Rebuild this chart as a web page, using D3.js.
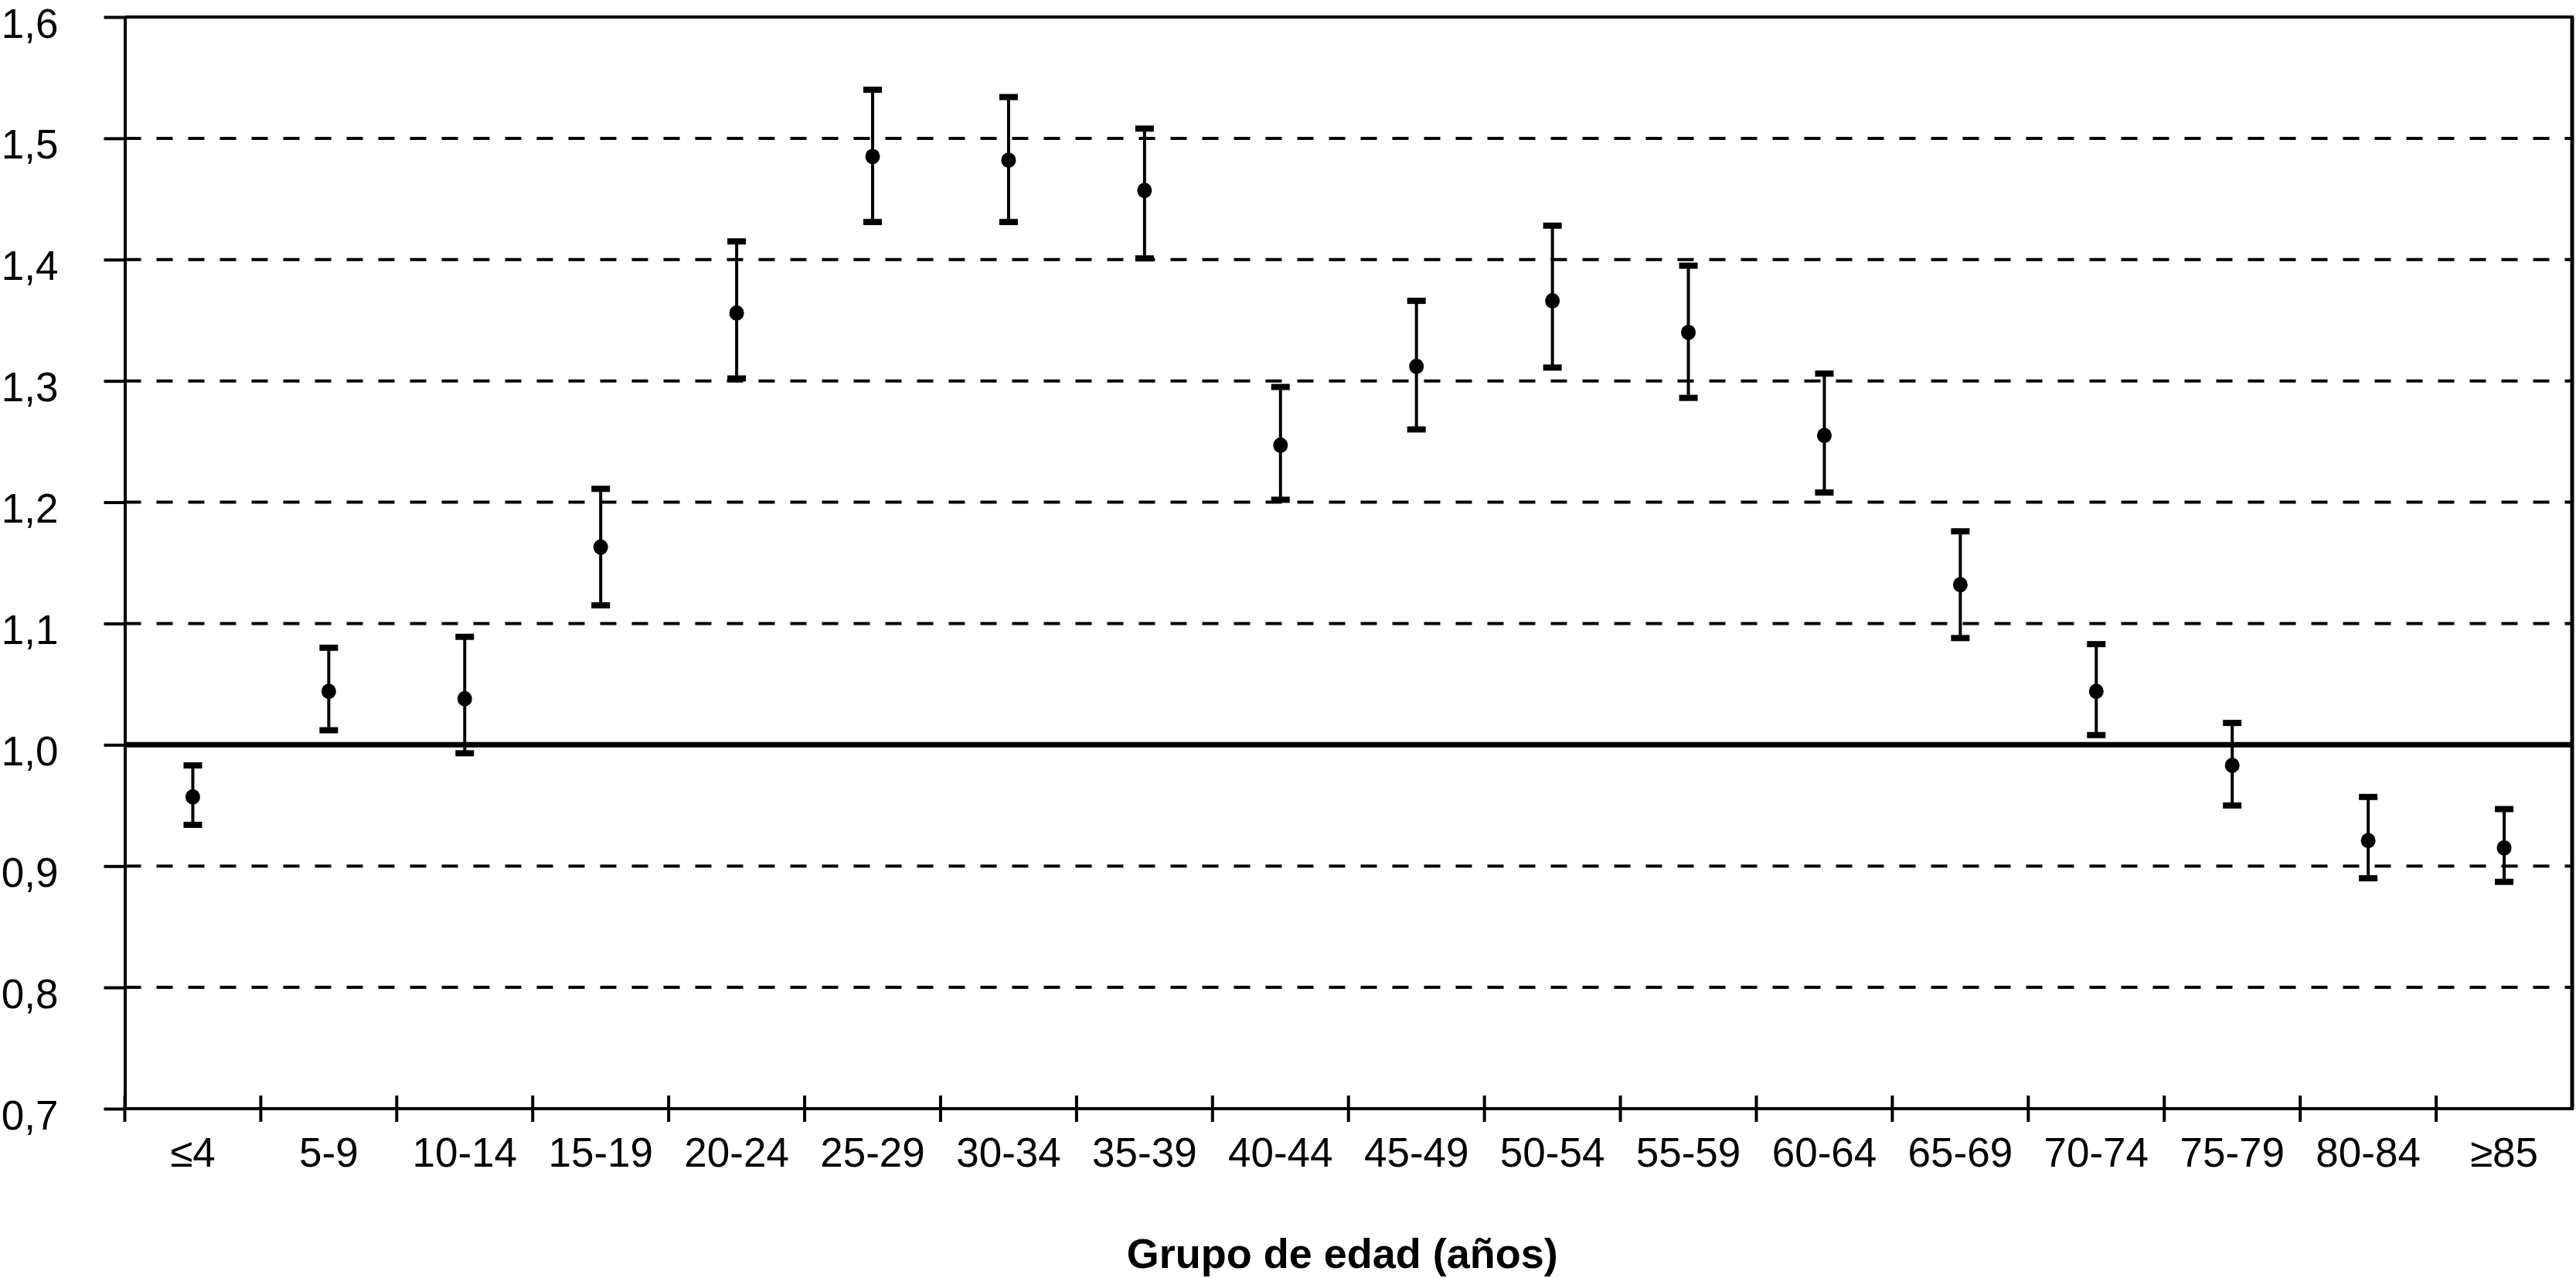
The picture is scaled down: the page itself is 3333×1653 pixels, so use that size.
<!DOCTYPE html>
<html>
<head>
<meta charset="utf-8">
<script src="https://cdn.jsdelivr.net/npm/d3@7"></script>
<style>
  body { margin: 0; background: #fff; }
  text { font-family: "Liberation Sans", Arial, Helvetica, sans-serif; fill: #000; }
</style>
</head>
<body>
<script>
// age groups and the ratio with its confidence interval
var groups = ['≤4', '5-9', '10-14', '15-19', '20-24', '25-29', '30-34', '35-39', '40-44',
  '45-49', '50-54', '55-59', '60-64', '65-69', '70-74', '75-79', '80-84', '≥85'];
var ratio = [0.957, 1.044, 1.038, 1.163, 1.356, 1.485, 1.482, 1.457, 1.247,
  1.312, 1.366, 1.340, 1.255, 1.132, 1.044, 0.983, 0.921, 0.915];
var upper = [0.983, 1.080, 1.089, 1.211, 1.415, 1.540, 1.534, 1.508, 1.295,
  1.366, 1.428, 1.395, 1.306, 1.176, 1.083, 1.018, 0.957, 0.947];
var lower = [0.934, 1.012, 0.993, 1.115, 1.302, 1.431, 1.431, 1.401, 1.202,
  1.260, 1.311, 1.286, 1.208, 1.088, 1.008, 0.950, 0.890, 0.887];
var yTicks = [0.7, 0.8, 0.9, 1.0, 1.1, 1.2, 1.3, 1.4, 1.5, 1.6];
var xTitle = 'Grupo de edad (años)';

var W = 3333, H = 1653;
var plotL = 161.5, plotR = 3328, plotT = 22, plotB = 1434;

var es = d3.formatLocale({decimal: ',', thousands: '.', grouping: [3], currency: ['', '€']});
var fmt = es.format('.1f');

var data = groups.map(function(g, i) {
  return {group: g, value: ratio[i], hi: upper[i], lo: lower[i]};
});

var x = d3.scaleBand().domain(groups).range([plotL, plotR]).padding(0);
var y = d3.scaleLinear().domain([0.7, 1.6]).range([plotB, plotT]);

var svg = d3.select('body')
  .append('svg')
  .attr('width', W)
  .attr('height', H);

// dashed grid
svg.append('g')
  .selectAll('line')
  .data(yTicks.filter(function(t) { return t > 0.75 && t < 1.55 && Math.abs(t - 1) > 0.01; }))
  .enter()
  .append('line')
  .attr('x1', plotL)
  .attr('x2', plotR)
  .attr('y1', function(d) { return y(d); })
  .attr('y2', function(d) { return y(d); })
  .attr('stroke', '#000')
  .attr('stroke-width', 4)
  .attr('stroke-dasharray', '21,20');

// reference line at 1
svg.append('line')
  .attr('x1', plotL)
  .attr('x2', plotR)
  .attr('y1', y(1))
  .attr('y2', y(1))
  .attr('stroke', '#000')
  .attr('stroke-width', 7);

// top and right border
svg.append('line')
  .attr('x1', plotL).attr('x2', plotR + 2)
  .attr('y1', y(1.6)).attr('y2', y(1.6))
  .attr('stroke', '#000').attr('stroke-width', 4);
svg.append('line')
  .attr('x1', plotR).attr('x2', plotR)
  .attr('y1', y(1.6)).attr('y2', y(0.7))
  .attr('stroke', '#000').attr('stroke-width', 5);

// y axis
var yAxis = svg.append('g')
  .attr('transform', 'translate(' + plotL + ',0)')
  .call(d3.axisLeft(y).tickValues(yTicks).tickFormat(fmt).tickSize(27).tickSizeOuter(0).tickPadding(59));
yAxis.select('.domain').attr('stroke', '#000').attr('stroke-width', 4);
yAxis.selectAll('.tick line').attr('stroke', '#000').attr('stroke-width', 4);
yAxis.selectAll('.tick text')
  .attr('font-size', 53)
  .attr('font-family', '"Liberation Sans", Arial, sans-serif')
  .attr('dy', 26)
  .attr('fill', '#000');

// x axis: labels centred in bands, ticks on band edges
var xAxis = svg.append('g')
  .attr('transform', 'translate(0,' + plotB + ')')
  .call(d3.axisBottom(x).tickSize(0).tickPadding(75));
xAxis.select('.domain').remove();
xAxis.selectAll('.tick text')
  .attr('font-size', 53)
  .attr('font-family', '"Liberation Sans", Arial, sans-serif')
  .attr('dy', 0)
  .attr('fill', '#000');

svg.append('line')
  .attr('x1', plotL - 2).attr('x2', plotR + 2)
  .attr('y1', plotB).attr('y2', plotB)
  .attr('stroke', '#000').attr('stroke-width', 4);

var edges = groups.map(function(g) { return x(g); });
svg.append('g')
  .selectAll('line')
  .data(edges)
  .enter()
  .append('line')
  .attr('x1', function(d) { return d; })
  .attr('x2', function(d) { return d; })
  .attr('y1', plotB - 17)
  .attr('y2', plotB + 17)
  .attr('stroke', '#000')
  .attr('stroke-width', 4);

// x title
svg.append('text')
  .attr('x', (plotL + plotR) / 2 - 8)
  .attr('y', 1640)
  .attr('text-anchor', 'middle')
  .attr('font-size', 54)
  .attr('font-weight', 'bold')
  .text(xTitle);

// error bars
var bars = svg.append('g')
  .selectAll('g')
  .data(data)
  .enter()
  .append('g')
  .attr('transform', function(d) { return 'translate(' + (x(d.group) + x.bandwidth() / 2) + ',0)'; });

bars.append('line')
  .attr('y1', function(d) { return y(d.hi); })
  .attr('y2', function(d) { return y(d.lo); })
  .attr('stroke', '#000')
  .attr('stroke-width', 4);

bars.append('line')
  .attr('x1', -12).attr('x2', 12)
  .attr('y1', function(d) { return y(d.hi); })
  .attr('y2', function(d) { return y(d.hi); })
  .attr('stroke', '#000')
  .attr('stroke-width', 8);

bars.append('line')
  .attr('x1', -12).attr('x2', 12)
  .attr('y1', function(d) { return y(d.lo); })
  .attr('y2', function(d) { return y(d.lo); })
  .attr('stroke', '#000')
  .attr('stroke-width', 8);

bars.append('ellipse')
  .attr('cy', function(d) { return y(d.value); })
  .attr('rx', 9.5)
  .attr('ry', 10)
  .attr('fill', '#000');
</script>
</body>
</html>
